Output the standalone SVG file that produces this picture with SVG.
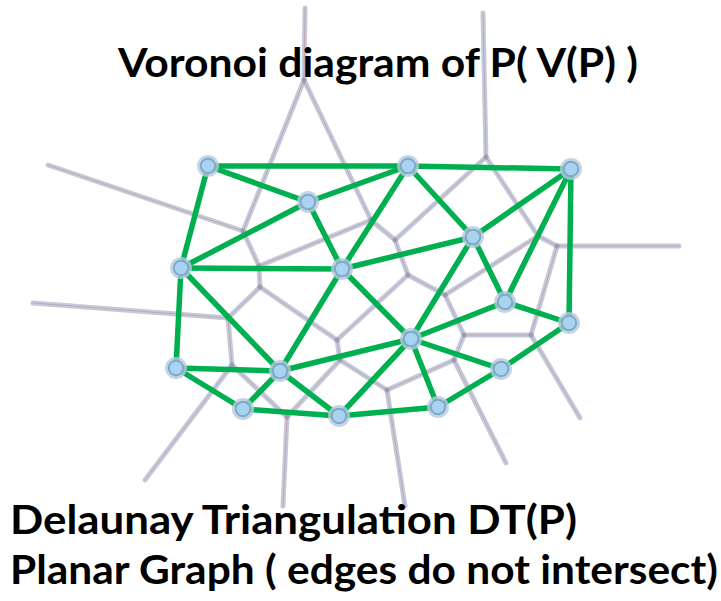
<svg xmlns="http://www.w3.org/2000/svg" xmlns:xlink="http://www.w3.org/1999/xlink" width="721" height="601" viewBox="0 0 721 601">
  <style>
    .title { font-family: Lato, "Liberation Sans", "DejaVu Sans", sans-serif; font-weight: bold; font-size: 41px; fill: #000; }
    .vor-outer { stroke: #8e9ab8; stroke-opacity: 0.52; stroke-width: 5; stroke-linecap: round; fill: none; }
    .vor-inner { stroke: #c07888; stroke-opacity: 0.55; stroke-width: 0.8; stroke-linecap: round; fill: none; }
    .dt { stroke: #00b050; stroke-width: 5.5; stroke-linecap: round; fill: none; }
    .halo { fill: #b7c9dc; fill-opacity: 0.8; }
    .site { fill: #a9d4ef; stroke: #7ea8cc; stroke-width: 2; }
  </style>
  <defs>
    <!-- Voronoi edges: vertices and unbounded rays -->
    <g id="vor-edges">
      <line x1="305" y1="8" x2="304" y2="80"/>
      <line x1="304" y1="80" x2="243" y2="231"/>
      <line x1="304" y1="80" x2="371" y2="220"/>
      <line x1="48" y1="165" x2="243" y2="231"/>
      <line x1="243" y1="231" x2="259" y2="266"/>
      <line x1="259" y1="266" x2="371" y2="220"/>
      <line x1="259" y1="266" x2="260" y2="287"/>
      <line x1="260" y1="287" x2="228" y2="318"/>
      <line x1="260" y1="287" x2="337" y2="340"/>
      <line x1="33" y1="303" x2="228" y2="318"/>
      <line x1="228" y1="318" x2="232" y2="365"/>
      <line x1="232" y1="365" x2="145" y2="480"/>
      <line x1="232" y1="365" x2="287" y2="417"/>
      <line x1="287" y1="417" x2="283" y2="506"/>
      <line x1="287" y1="417" x2="340" y2="360"/>
      <line x1="340" y1="360" x2="337" y2="340"/>
      <line x1="340" y1="360" x2="387" y2="390"/>
      <line x1="387" y1="390" x2="405" y2="506"/>
      <line x1="387" y1="390" x2="454" y2="360"/>
      <line x1="454" y1="360" x2="506" y2="463"/>
      <line x1="454" y1="360" x2="464" y2="335"/>
      <line x1="464" y1="335" x2="531" y2="335"/>
      <line x1="464" y1="335" x2="445" y2="295"/>
      <line x1="531" y1="335" x2="580" y2="418"/>
      <line x1="531" y1="335" x2="557" y2="246"/>
      <line x1="557" y1="246" x2="679" y2="246"/>
      <line x1="557" y1="246" x2="538" y2="236"/>
      <line x1="538" y1="236" x2="445" y2="295"/>
      <line x1="538" y1="236" x2="486" y2="157"/>
      <line x1="486" y1="157" x2="483" y2="13"/>
      <line x1="486" y1="157" x2="395" y2="240"/>
      <line x1="395" y1="240" x2="371" y2="220"/>
      <line x1="395" y1="240" x2="408" y2="275"/>
      <line x1="408" y1="275" x2="445" y2="295"/>
      <line x1="408" y1="275" x2="337" y2="340"/>
    </g>
  </defs>

  <!-- Voronoi diagram (light double-line style) -->
  <g id="voronoi">
    <use xlink:href="#vor-edges" href="#vor-edges" class="vor-outer"/>
    <use xlink:href="#vor-edges" href="#vor-edges" class="vor-inner"/>
  </g>

  <!-- Delaunay triangulation edges -->
  <g id="connectors" class="dt">
    <line x1="208" y1="166" x2="408" y2="166"/>
    <line x1="208" y1="166" x2="308" y2="202"/>
    <line x1="208" y1="166" x2="181" y2="268"/>
    <line x1="408" y1="166" x2="308" y2="202"/>
    <line x1="408" y1="166" x2="342" y2="269"/>
    <line x1="408" y1="166" x2="473" y2="237"/>
    <line x1="408" y1="166" x2="571" y2="169"/>
    <line x1="308" y1="202" x2="181" y2="268"/>
    <line x1="308" y1="202" x2="342" y2="269"/>
    <line x1="181" y1="268" x2="342" y2="269"/>
    <line x1="181" y1="268" x2="176" y2="368"/>
    <line x1="181" y1="268" x2="280" y2="371"/>
    <line x1="342" y1="269" x2="473" y2="237"/>
    <line x1="342" y1="269" x2="280" y2="371"/>
    <line x1="342" y1="269" x2="411" y2="339"/>
    <line x1="473" y1="237" x2="571" y2="169"/>
    <line x1="473" y1="237" x2="411" y2="339"/>
    <line x1="473" y1="237" x2="505" y2="302"/>
    <line x1="571" y1="169" x2="505" y2="302"/>
    <line x1="571" y1="169" x2="569" y2="323"/>
    <line x1="505" y1="302" x2="569" y2="323"/>
    <line x1="505" y1="302" x2="411" y2="339"/>
    <line x1="411" y1="339" x2="501" y2="369"/>
    <line x1="411" y1="339" x2="280" y2="371"/>
    <line x1="411" y1="339" x2="438" y2="407"/>
    <line x1="411" y1="339" x2="339" y2="416"/>
    <line x1="176" y1="368" x2="280" y2="371"/>
    <line x1="176" y1="368" x2="243" y2="409"/>
    <line x1="280" y1="371" x2="243" y2="409"/>
    <line x1="280" y1="371" x2="339" y2="416"/>
    <line x1="243" y1="409" x2="339" y2="416"/>
    <line x1="339" y1="416" x2="438" y2="407"/>
    <line x1="438" y1="407" x2="501" y2="369"/>
    <line x1="501" y1="369" x2="569" y2="323"/>
  </g>

  <!-- Sites of P -->
  <g id="site-a"><circle class="halo" cx="208" cy="166" r="11"/><circle class="site" cx="208" cy="166" r="7.2"/></g>
  <g id="site-b"><circle class="halo" cx="408" cy="166" r="11"/><circle class="site" cx="408" cy="166" r="7.2"/></g>
  <g id="site-c"><circle class="halo" cx="571" cy="169" r="11"/><circle class="site" cx="571" cy="169" r="7.2"/></g>
  <g id="site-d"><circle class="halo" cx="308" cy="202" r="11"/><circle class="site" cx="308" cy="202" r="7.2"/></g>
  <g id="site-e"><circle class="halo" cx="473" cy="237" r="11"/><circle class="site" cx="473" cy="237" r="7.2"/></g>
  <g id="site-f"><circle class="halo" cx="181" cy="268" r="11"/><circle class="site" cx="181" cy="268" r="7.2"/></g>
  <g id="site-g"><circle class="halo" cx="342" cy="269" r="11"/><circle class="site" cx="342" cy="269" r="7.2"/></g>
  <g id="site-h"><circle class="halo" cx="505" cy="302" r="11"/><circle class="site" cx="505" cy="302" r="7.2"/></g>
  <g id="site-i"><circle class="halo" cx="569" cy="323" r="11"/><circle class="site" cx="569" cy="323" r="7.2"/></g>
  <g id="site-j"><circle class="halo" cx="411" cy="339" r="11"/><circle class="site" cx="411" cy="339" r="7.2"/></g>
  <g id="site-k"><circle class="halo" cx="176" cy="368" r="11"/><circle class="site" cx="176" cy="368" r="7.2"/></g>
  <g id="site-l"><circle class="halo" cx="280" cy="371" r="11"/><circle class="site" cx="280" cy="371" r="7.2"/></g>
  <g id="site-m"><circle class="halo" cx="501" cy="369" r="11"/><circle class="site" cx="501" cy="369" r="7.2"/></g>
  <g id="site-n"><circle class="halo" cx="243" cy="409" r="11"/><circle class="site" cx="243" cy="409" r="7.2"/></g>
  <g id="site-o"><circle class="halo" cx="339" cy="416" r="11"/><circle class="site" cx="339" cy="416" r="7.2"/></g>
  <g id="site-q"><circle class="halo" cx="438" cy="407" r="11"/><circle class="site" cx="438" cy="407" r="7.2"/></g>

  <!-- Labels -->
  <g id="labels">
    <text class="title" x="118" y="77" textLength="520" lengthAdjust="spacingAndGlyphs">Voronoi diagram of P( V(P) )</text>
    <text class="title" x="10" y="534" textLength="567" lengthAdjust="spacingAndGlyphs">Delaunay Triangulation DT(P)</text>
    <text class="title" x="10" y="584" textLength="708" lengthAdjust="spacingAndGlyphs">Planar Graph ( edges do not intersect)</text>
  </g>
</svg>
